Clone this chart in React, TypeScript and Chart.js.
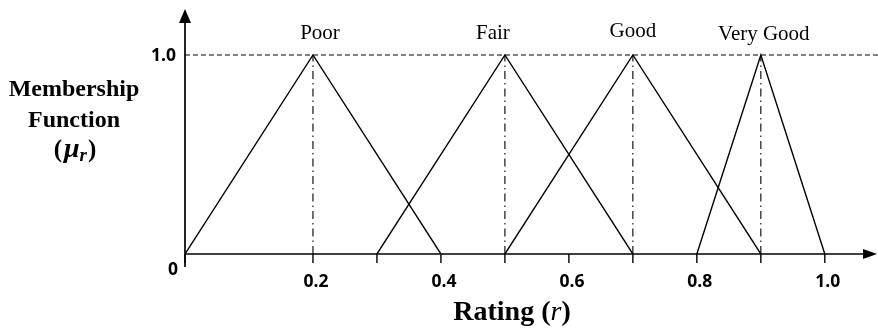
import React, { useEffect, useRef } from "react";
import { Chart, registerables } from "chart.js";

Chart.register(...registerables);

// ---- data ----
const categories = ["Poor", "Fair", "Good", "Very Good"];
const leftFeet = [0, 0.3, 0.5, 0.8];
const peaks = [0.2, 0.5, 0.7, 0.9];
const rightFeet = [0.4, 0.7, 0.9, 1.0];
const peakMembership = 1.0;
const xTickMarks = [0, 0.2, 0.3, 0.4, 0.5, 0.6, 0.7, 0.8, 0.9, 1.0];
const xTickValues = [0.2, 0.4, 0.6, 0.8, 1.0];
const xTickLabels = ["0.2", "0.4", "0.6", "0.8", "1.0"];
const yTickValues = [1.0];
const yTickLabels = ["1.0"];
const originLabel = "0";

const X_MAX = 1.08;
const Y_MAX = 1.221;

const SERIF = "'Liberation Serif', 'Times New Roman', serif";
const SANS = "'Open Sans', 'Liberation Sans', sans-serif";

// label pixel nudges (style, not data)
const labelDx = [7, -12, 0, 3];
const labelBaselineY = [39, 39, 37, 40];

const annotatePlugin = {
  id: "annotate",
  beforeDatasetsDraw(chart: any) {
    const ctx = chart.ctx;
    const xs = chart.scales.x;
    const ys = chart.scales.y;
    const x0 = xs.getPixelForValue(0);
    const y0 = ys.getPixelForValue(0);
    ctx.save();
    ctx.strokeStyle = "#000";
    ctx.fillStyle = "#000";
    ctx.lineWidth = 1.7;
    // y axis
    ctx.beginPath();
    ctx.moveTo(x0, y0 + 13);
    ctx.lineTo(x0, 20);
    ctx.stroke();
    ctx.beginPath();
    ctx.moveTo(x0, 9);
    ctx.lineTo(x0 - 6, 23);
    ctx.lineTo(x0 + 6, 23);
    ctx.closePath();
    ctx.fill();
    // x axis
    const xEnd = 877;
    ctx.beginPath();
    ctx.moveTo(x0, y0);
    ctx.lineTo(xEnd - 10, y0);
    ctx.stroke();
    ctx.beginPath();
    ctx.moveTo(xEnd, y0);
    ctx.lineTo(xEnd - 14, y0 - 5);
    ctx.lineTo(xEnd - 14, y0 + 5);
    ctx.closePath();
    ctx.fill();
    // tick marks
    ctx.lineWidth = 1.4;
    xTickMarks.forEach((v) => {
      const px = xs.getPixelForValue(v);
      ctx.beginPath();
      ctx.moveTo(px, y0);
      ctx.lineTo(px, y0 + 9);
      ctx.stroke();
    });
    ctx.restore();
  },
  afterDraw(chart: any) {
    const ctx = chart.ctx;
    const xs = chart.scales.x;
    const ys = chart.scales.y;
    const x0 = xs.getPixelForValue(0);
    const y0 = ys.getPixelForValue(0);
    ctx.save();
    ctx.fillStyle = "#000";
    // x tick labels
    ctx.font = `bold 17.5px ${SANS}`;
    ctx.textAlign = "center";
    ctx.textBaseline = "middle";
    xTickValues.forEach((v, i) => {
      ctx.fillText(xTickLabels[i], xs.getPixelForValue(v) + 3, y0 + 28);
    });
    ctx.fillText(originLabel, x0 - 12, y0 + 16);
    // y tick labels
    ctx.textAlign = "right";
    yTickValues.forEach((v, i) => {
      ctx.fillText(yTickLabels[i], x0 - 9, ys.getPixelForValue(v) + 1);
    });
    // category labels
    ctx.font = `21px ${SERIF}`;
    ctx.textAlign = "center";
    ctx.textBaseline = "alphabetic";
    categories.forEach((c, i) => {
      ctx.fillText(c, xs.getPixelForValue(peaks[i]) + labelDx[i], labelBaselineY[i]);
    });
    // y title
    ctx.font = `bold 24px ${SERIF}`;
    ctx.fillText("Membership", 74, 96);
    ctx.fillText("Function", 74, 127);
    // (μ_r)
    const parts: [string, string, number, number][] = [
      ["(", `bold 25px ${SERIF}`, 0, 2],
      ["\u03BC", `bold italic 28px ${SERIF}`, 0, 0],
      ["r", `bold italic 19px ${SERIF}`, 4, 1],
      [")", `bold 25px ${SERIF}`, 0, 0],
    ];
    let total = 0;
    parts.forEach(([t, f, , sp]) => {
      ctx.font = f;
      total += ctx.measureText(t).width + sp;
    });
    let cx = 75 - total / 2;
    ctx.textAlign = "left";
    parts.forEach(([t, f, dy, sp]) => {
      ctx.font = f;
      ctx.fillText(t, cx, 157 + dy);
      cx += ctx.measureText(t).width + sp;
    });
    // x title
    const xparts: [string, string][] = [
      ["Rating (", `bold 28px ${SERIF}`],
      ["r", `italic 28px ${SERIF}`],
      [")", `bold 28px ${SERIF}`],
    ];
    total = 0;
    xparts.forEach(([t, f]) => {
      ctx.font = f;
      total += ctx.measureText(t).width;
    });
    cx = 512 - total / 2;
    xparts.forEach(([t, f]) => {
      ctx.font = f;
      ctx.fillText(t, cx, 320);
      cx += ctx.measureText(t).width;
    });
    ctx.restore();
  },
};

export default function App() {
  const ref = useRef<HTMLCanvasElement | null>(null);
  useEffect(() => {
    if (!ref.current) return;
    const triangleSets = categories.map((c, i) => ({
      label: c,
      data: [
        { x: leftFeet[i], y: 0 },
        { x: peaks[i], y: peakMembership },
        { x: rightFeet[i], y: 0 },
      ],
      showLine: true,
      borderColor: "#000",
      borderWidth: 1.4,
      pointRadius: 0,
      fill: false,
      tension: 0,
    }));
    const peakLines = categories.map((c, i) => ({
      label: c + " peak",
      data: [
        { x: peaks[i], y: 0 },
        { x: peaks[i], y: peakMembership },
      ],
      showLine: true,
      borderColor: "#000",
      borderWidth: 1.1,
      borderDash: [8, 4, 1.5, 4],
      pointRadius: 0,
      fill: false,
    }));
    const topLine = {
      label: "max",
      data: [
        { x: 0, y: peakMembership },
        { x: X_MAX + 0.01, y: peakMembership },
      ],
      showLine: true,
      borderColor: "#000",
      borderWidth: 1.2,
      borderDash: [5, 3],
      pointRadius: 0,
      fill: false,
      clip: false,
    };
    const chart = new Chart(ref.current, {
      type: "scatter",
      data: { datasets: [topLine, ...peakLines, ...triangleSets] as any },
      options: {
        animation: false,
        responsive: false,
        devicePixelRatio: 1,
        layout: { padding: { left: 185, right: 2, top: 11, bottom: 74 } },
        plugins: { legend: { display: false }, tooltip: { enabled: false } },
        scales: {
          x: { type: "linear", min: 0, max: X_MAX, display: false },
          y: { type: "linear", min: 0, max: Y_MAX, display: false },
        },
      },
      plugins: [annotatePlugin],
    });
    return () => chart.destroy();
  }, []);
  return (
    <div style={{ position: "fixed", left: 0, top: 0, width: 878, height: 328, background: "#fff" }}>
      <canvas ref={ref} width={878} height={328} style={{ display: "block" }} />
    </div>
  );
}
